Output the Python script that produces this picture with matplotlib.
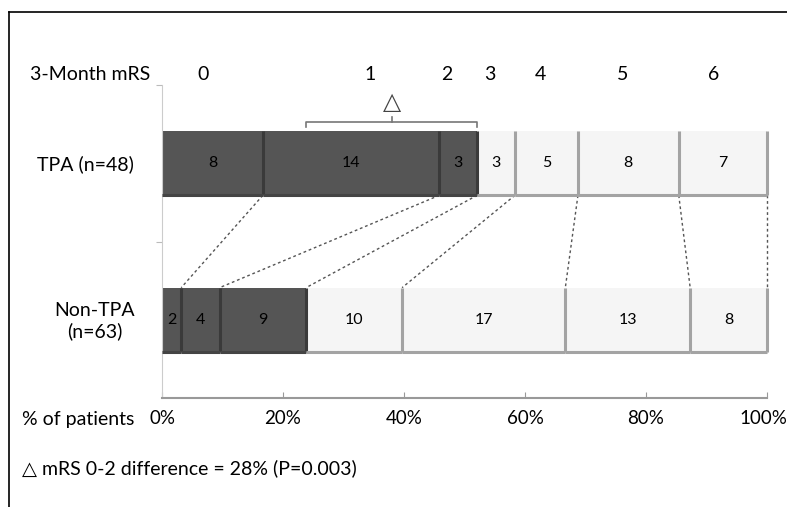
import matplotlib.pyplot as plt
import matplotlib.transforms as mtransforms
from matplotlib.lines import Line2D
import numpy as np

plt.rcParams['font.family'] = ['Lato', 'DejaVu Sans']

# data
mrs_scores = ['0', '1', '2', '3', '4', '5', '6']
groups = ['TPA (n=48)', 'Non-TPA\n(n=63)']
tpa_counts = [8, 14, 3, 3, 5, 8, 7]
non_tpa_counts = [2, 4, 9, 10, 17, 13, 8]
tick_labels = ['0%', '20%', '40%', '60%', '80%', '100%']
note = '\u25b3 mRS 0-2 difference = 28% (P=0.003)'

dark = '#555555'
dark_edge = '#3a3a3a'
light = '#f5f5f5'
light_edge = '#a3a3a3'
fs = 14

fig = plt.figure(figsize=(7.87, 5.07), dpi=100)
ax = fig.add_axes([162/787, 1 - 398/507, 605/787, 313/507])

ys = [1.5, 0.5]
h = 0.41


def draw_row(counts, y):
    pct = np.array(counts) / sum(counts) * 100
    lefts = np.concatenate([[0], np.cumsum(pct)[:-1]])
    for i, (l, w) in enumerate(zip(lefts, pct)):
        is_dark = i < 3
        ax.barh(y, w, left=l, height=h, color=dark if is_dark else light,
                edgecolor='none', zorder=2)
        ec = dark_edge if is_dark else light_edge
        # right edge and bottom shadow
        ax.plot([l + w, l + w], [y - h/2, y + h/2], color=ec, lw=2.2,
                zorder=3, solid_capstyle='butt', clip_on=False)
        ax.plot([l, l + w], [y - h/2, y - h/2], color=light_edge if not is_dark else '#444444',
                lw=2.2, zorder=3, solid_capstyle='butt', clip_on=False)
        ax.text(l + w/2, y, str(counts[i]), ha='center', va='center',
                fontsize=11.5, color='black', zorder=4)
    return np.cumsum(pct)


tpa_cum = draw_row(tpa_counts, ys[0])
non_cum = draw_row(non_tpa_counts, ys[1])

# dashed connectors between cumulative boundaries
for a, b in zip(tpa_cum, non_cum):
    ax.plot([a, b], [ys[0] - h/2, ys[1] + h/2], color='#555555', lw=1,
            ls=(0, (2, 2)), zorder=1, clip_on=False)

# bracket for mRS 0-2 difference
bx0, bx1 = non_cum[2], tpa_cum[2]
by = 1.765
ax.plot([bx0, bx0, bx1, bx1], [by - 0.035, by, by, by - 0.035], color='#777777', lw=1.2,
        clip_on=False)
ax.plot([(bx0 + bx1)/2] * 2, [by, by + 0.03], color='#777777', lw=1.2, clip_on=False)
ax.text((bx0 + bx1)/2, by + 0.12, '\u25b3', ha='center', va='center', fontsize=17,
        color='#444444', clip_on=False)

# mRS labels on top
label_x = [6.8, 34.4, 47.1, 54.2, 62.5, 76.2, 91.2]
for s, x in zip(mrs_scores, label_x):
    ax.text(x, 2.065, s, ha='center', va='center', fontsize=fs)
fig.text(30/787, 1 - 75/507, '3-Month mRS', ha='left', va='center', fontsize=fs)

ax.set_xlim(0, 100)
ax.set_ylim(0, 2)
ax.set_xticks(np.arange(0, 101, 20))
ax.set_xticklabels(tick_labels, fontsize=13.5)
ax.set_yticks([1, 2])
ax.set_yticklabels([])
ax.tick_params(axis='x', direction='in', length=4, color='#999999', pad=9)
ax.tick_params(axis='y', direction='out', length=4, color='#bbbbbb')
# nudge the last tick label so it stays inside the figure
last = ax.get_xticklabels()[-1]
last.set_transform(last.get_transform() +
                   mtransforms.ScaledTranslation(-4/100, 0, fig.dpi_scale_trans))
for sp in ['top', 'right']:
    ax.spines[sp].set_visible(False)
ax.spines['left'].set_color('#cccccc')
ax.spines['bottom'].set_color('#999999')
ax.spines['bottom'].set_linewidth(1.5)

fig.text(85/787, 1 - 164/507, groups[0], ha='center', va='center', fontsize=fs)
fig.text(95/787, 1 - 321/507, groups[1], ha='center', va='center', fontsize=fs,
         linespacing=1.2)
fig.text(22/787, 1 - 420/507, '% of patients', ha='left', va='center', fontsize=fs)
fig.text(22/787, 1 - 468/507, note, ha='left', va='center', fontsize=fs)

# frame lines
fig.add_artist(Line2D([9/787, 9/787], [0, 1 - 12/507], color='black', lw=1.2))
fig.add_artist(Line2D([9/787, 1], [1 - 12/507, 1 - 12/507], color='black', lw=1.2))

fig.savefig('out.png', dpi=100)
